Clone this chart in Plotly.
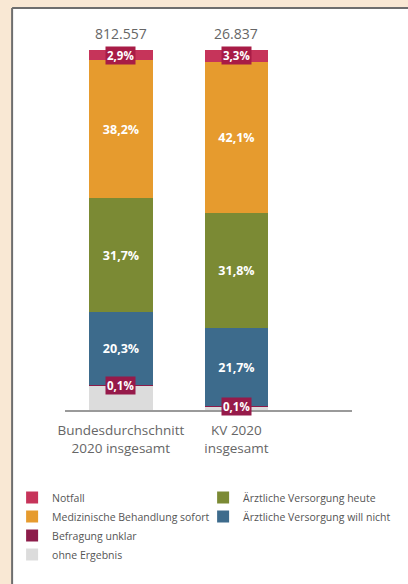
import plotly.graph_objects as go

# ---- data ----
categories = ["Bundesdurchschnitt<br>2020 insgesamt", "KV 2020<br>insgesamt"]
totals = ["812.557", "26.837"]
notfall = [2.9, 3.3]
sofort = [38.2, 42.1]
heute = [31.7, 31.8]
will_nicht = [20.3, 21.7]
unklar = [0.1, 0.1]
ohne = [6.8, 1.0]

names = {
    "notfall": "Notfall",
    "sofort": "Medizinische Behandlung sofort",
    "unklar": "Befragung unklar",
    "ohne": "ohne Ergebnis",
    "heute": "Ärztliche Versorgung heute",
    "will_nicht": "Ärztliche Versorgung will nicht",
}
colors = {
    "notfall": "#c6345a",
    "sofort": "#e69b2e",
    "unklar": "#8c1c4a",
    "ohne": "#dcdcdc",
    "heute": "#7b8a34",
    "will_nicht": "#3d6b8c",
}

FONT = "'Open Sans', Lato, sans-serif"


def fmt(v):
    return f"{v:.1f}".replace(".", ",") + "%"


fig = go.Figure()

# bottom to top
stack = [
    ("ohne", ohne, False, "legend", 4),
    ("unklar", unklar, False, "legend", 3),
    ("will_nicht", will_nicht, True, "legend2", 2),
    ("heute", heute, True, "legend2", 1),
    ("sofort", sofort, True, "legend", 2),
    ("notfall", notfall, False, "legend", 1),
]
for key, vals, show_text, leg, rank in stack:
    fig.add_trace(go.Bar(
        x=categories, y=vals, name=names[key],
        marker=dict(color=colors[key], line=dict(width=0)),
        width=0.55,
        text=[fmt(v) for v in vals] if show_text else None,
        textposition="inside" if show_text else "none",
        insidetextanchor="middle",
        textangle=0,
        textfont=dict(color="white", size=12.5, family=FONT, weight="bold"),
        legend=leg, legendrank=rank,
        hoverinfo="skip",
    ))

annotations = []
for i, c in enumerate(categories):
    # totals
    annotations.append(dict(
        x=c, y=100, xref="x", yref="y", text=totals[i], showarrow=False,
        yanchor="bottom", yshift=5,
        font=dict(size=14, color="#666666", family=FONT),
    ))
    # Notfall box
    y_n = 100 - notfall[i] / 2
    annotations.append(dict(
        x=c, y=y_n, xref="x", yref="y", text=fmt(notfall[i]), showarrow=False,
        bgcolor="#a81c46", borderpad=1,
        font=dict(size=11.5, color="white", family=FONT, weight="bold"),
    ))
    # Befragung unklar box
    y_u = ohne[i] + unklar[i] / 2
    annotations.append(dict(
        x=c, y=y_u, xref="x", yref="y", text=fmt(unklar[i]), showarrow=False,
        bgcolor="#961a4a", borderpad=1,
        font=dict(size=11.5, color="white", family=FONT, weight="bold"),
    ))

L, R, T, B = 62, 53, 50, 174
W, H = 408, 584
pw, ph = W - L - R, H - T - B


def px_x(p):
    return (p - L) / pw


def px_y(p):
    return (H - B - p) / ph


shapes = [
    dict(type="rect", xref="paper", yref="paper",
         x0=px_x(8), x1=px_x(420), y0=px_y(600), y1=px_y(8),
         fillcolor="white", line=dict(width=0), layer="below"),
    dict(type="line", xref="paper", yref="paper",
         x0=px_x(8), x1=px_x(420), y0=px_y(8), y1=px_y(8),
         line=dict(color="#6e6e6e", width=2), layer="below"),
    dict(type="line", xref="paper", yref="paper",
         x0=px_x(8), x1=px_x(8), y0=px_y(8), y1=px_y(600),
         line=dict(color="#6e6e6e", width=2), layer="below"),
]

fig.update_layout(
    width=W, height=H,
    margin=dict(l=L, r=R, t=T, b=B),
    paper_bgcolor="#f9e8d4",
    plot_bgcolor="rgba(0,0,0,0)",
    barmode="stack",
    bargap=0,
    showlegend=True,
    font=dict(family=FONT, color="#666666"),
    xaxis=dict(
        type="category", range=[-0.483, 2.0],
        showline=True, linecolor="#9a9a9a", linewidth=2,
        showgrid=False, zeroline=False, ticks="",
        tickfont=dict(size=13.5, color="#666666", family=FONT),
        ticklabelstandoff=7,
        fixedrange=True,
    ),
    yaxis=dict(range=[0, 100], visible=False, fixedrange=True),
    legend=dict(
        x=px_x(8), y=px_y(483), xanchor="left", yanchor="top",
        orientation="v", traceorder="normal",
        font=dict(size=10.5, color="#555555", family=FONT),
        bgcolor="rgba(0,0,0,0)", itemclick=False,
    ),
    legend2=dict(
        x=px_x(203), y=px_y(483), xanchor="left", yanchor="top",
        orientation="v", traceorder="normal",
        font=dict(size=10.5, color="#555555", family=FONT),
        bgcolor="rgba(0,0,0,0)", itemclick=False,
    ),
    annotations=annotations,
    shapes=shapes,
)

fig.write_html("out.html")
